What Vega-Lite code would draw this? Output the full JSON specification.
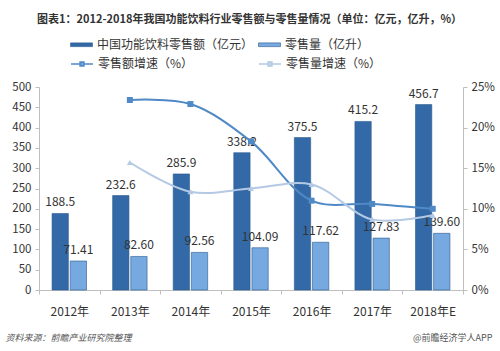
{
  "$schema": "https://vega.github.io/schema/vega-lite/v6.json",
  "width": 424,
  "height": 203,
  "autosize": {"type": "none"},
  "padding": {"left": 39, "top": 87, "right": 37, "bottom": 61},
  "background": "white",
  "config": {
    "view": {"stroke": null},
    "font": "Noto Sans CJK SC",
    "axis": {"labelFont": "Noto Sans CJK SC", "titleFont": "Noto Sans CJK SC", "grid": false, "domainColor": "#bfbfbf", "tickColor": "#bfbfbf", "labelColor": "#333333", "labelFontSize": 11.5},
    "legend": {"labelFont": "Noto Sans CJK SC", "labelFontSize": 12, "labelColor": "#333333", "labelOffset": 4, "labelLimit": 300, "symbolSize": 484, "title": null, "orient": "none", "direction": "horizontal"}
  },
  "title": {
    "text": "图表1：2012-2018年我国功能饮料行业零售额与零售量情况（单位：亿元，亿升，%）",
    "anchor": "start",
    "frame": "group",
    "fontSize": 11,
    "fontWeight": "bold",
    "color": "#333333",
    "font": "Noto Sans CJK SC",
    "dx": -2,
    "dy": -4
  },
  "datasets": {
    "bars": [
      {"year": "2012年", "series": "中国功能饮料零售额（亿元）", "value": 188.5, "label": "188.5"},
      {"year": "2013年", "series": "中国功能饮料零售额（亿元）", "value": 232.6, "label": "232.6"},
      {"year": "2014年", "series": "中国功能饮料零售额（亿元）", "value": 285.9, "label": "285.9"},
      {"year": "2015年", "series": "中国功能饮料零售额（亿元）", "value": 338.2, "label": "338.2"},
      {"year": "2016年", "series": "中国功能饮料零售额（亿元）", "value": 375.5, "label": "375.5"},
      {"year": "2017年", "series": "中国功能饮料零售额（亿元）", "value": 415.2, "label": "415.2"},
      {"year": "2018年E", "series": "中国功能饮料零售额（亿元）", "value": 456.7, "label": "456.7"},
      {"year": "2012年", "series": "零售量（亿升）", "value": 71.41, "label": "71.41"},
      {"year": "2013年", "series": "零售量（亿升）", "value": 82.60, "label": "82.60"},
      {"year": "2014年", "series": "零售量（亿升）", "value": 92.56, "label": "92.56"},
      {"year": "2015年", "series": "零售量（亿升）", "value": 104.09, "label": "104.09"},
      {"year": "2016年", "series": "零售量（亿升）", "value": 117.62, "label": "117.62"},
      {"year": "2017年", "series": "零售量（亿升）", "value": 127.83, "label": "127.83"},
      {"year": "2018年E", "series": "零售量（亿升）", "value": 139.60, "label": "139.60"}
    ],
    "growth": [
      {"year": "2013年", "series": "零售额增速（%）", "value": 0.234},
      {"year": "2014年", "series": "零售额增速（%）", "value": 0.229},
      {"year": "2015年", "series": "零售额增速（%）", "value": 0.183},
      {"year": "2016年", "series": "零售额增速（%）", "value": 0.110},
      {"year": "2017年", "series": "零售额增速（%）", "value": 0.106},
      {"year": "2018年E", "series": "零售额增速（%）", "value": 0.100},
      {"year": "2013年", "series": "零售量增速（%）", "value": 0.157},
      {"year": "2014年", "series": "零售量增速（%）", "value": 0.121},
      {"year": "2015年", "series": "零售量增速（%）", "value": 0.125},
      {"year": "2016年", "series": "零售量增速（%）", "value": 0.130},
      {"year": "2017年", "series": "零售量增速（%）", "value": 0.087},
      {"year": "2018年E", "series": "零售量增速（%）", "value": 0.092}
    ]
  },
  "encoding": {
    "x": {
      "field": "year",
      "type": "nominal",
      "sort": null,
      "scale": {"domain": ["2012年", "2013年", "2014年", "2015年", "2016年", "2017年", "2018年E"], "paddingInner": 0, "paddingOuter": 0},
      "axis": {
        "labelAngle": 0,
        "labelFontSize": 12,
        "labelPadding": 12,
        "tickBand": "extent",
        "tickSize": 4,
        "title": "资料来源：前瞻产业研究院整理",
        "titleFontSize": 9,
        "titleFontStyle": "italic",
        "titleFontWeight": "normal",
        "titleColor": "#555555",
        "titleX": -34,
        "titleY": 47,
        "titleAlign": "left",
        "titleBaseline": "middle",
        "titleAnchor": "start"
      }
    }
  },
  "layer": [
    {
      "data": {"name": "bars"},
      "mark": {"type": "bar", "strokeWidth": 0.6},
      "encoding": {
        "xOffset": {"field": "series", "type": "nominal", "sort": null, "scale": {"domain": ["中国功能饮料零售额（亿元）", "零售量（亿升）"], "paddingInner": 0.1, "paddingOuter": 0.72}},
        "y": {"field": "value", "type": "quantitative", "scale": {"domain": [0, 500], "nice": false}, "axis": {"values": [0, 50, 100, 150, 200, 250, 300, 350, 400, 450, 500], "title": null, "tickSize": 4, "labelPadding": 4, "labelFontSize": 11.5}},
        "color": {
          "field": "series",
          "type": "nominal",
          "sort": null,
          "scale": {"domain": ["中国功能饮料零售额（亿元）", "零售量（亿升）"], "range": ["#3369A6", "#76A9DF"]},
          "legend": {
            "legendX": 31,
            "legendY": -54,
            "columnPadding": 3,
            "symbolType": "M-1,-0.17H1V0.17H-1Z",
            "symbolStrokeColor": "#2A5A8E",
            "symbolStrokeWidth": 0.6
          }
        },
        "stroke": {"value": "#2A5A8E"}
      }
    },
    {
      "data": {"name": "bars"},
      "mark": {"type": "text", "baseline": "bottom", "dy": -4, "fontSize": 12, "color": "#333333"},
      "encoding": {
        "xOffset": {"field": "series", "type": "nominal", "sort": null},
        "y": {"field": "value", "type": "quantitative", "scale": {"domain": [0, 500], "nice": false}, "axis": null},
        "text": {"field": "label", "type": "nominal"}
      }
    },
    {
      "data": {"name": "growth"},
      "mark": {"type": "line", "interpolate": "catmull-rom", "strokeWidth": 2},
      "encoding": {
        "y": {"field": "value", "type": "quantitative", "scale": {"domain": [0, 0.25], "nice": false}, "axis": {"orient": "right", "format": ".0%", "values": [0, 0.05, 0.1, 0.15, 0.2, 0.25], "tickSize": 4, "labelPadding": 4, "labelFontSize": 11.5, "title": "@前瞻经济学人APP", "titleAngle": 0, "titleFontSize": 9, "titleFontWeight": "normal", "titleColor": "#555555", "titleX": 29, "titleY": 250, "titleAlign": "right", "titleBaseline": "middle"}},
        "color": {
          "field": "series",
          "type": "nominal",
          "sort": null,
          "scale": {"domain": ["零售额增速（%）", "零售量增速（%）"], "range": ["#4F89C6", "#B4C9E3"]},
          "legend": {
            "legendX": 31,
            "legendY": -35,
            "columnPadding": 61,
            "symbolType": "M-1,0H1M-0.17,-0.17H0.17V0.17H-0.17Z",
            "symbolStrokeWidth": 1.6
          }
        }
      }
    },
    {
      "data": {"name": "growth"},
      "mark": {"type": "point", "filled": true, "opacity": 1, "size": 36},
      "encoding": {
        "y": {"field": "value", "type": "quantitative", "scale": {"domain": [0, 0.25], "nice": false}, "axis": null},
        "color": {"field": "series", "type": "nominal", "sort": null, "scale": {"domain": ["零售额增速（%）", "零售量增速（%）"], "range": ["#4F89C6", "#B4C9E3"]}, "legend": null},
        "shape": {"field": "series", "type": "nominal", "scale": {"domain": ["零售额增速（%）", "零售量增速（%）"], "range": ["square", "triangle-up"]}, "legend": null}
      }
    }
  ],
  "resolve": {"scale": {"y": "independent", "color": "independent"}}
}
